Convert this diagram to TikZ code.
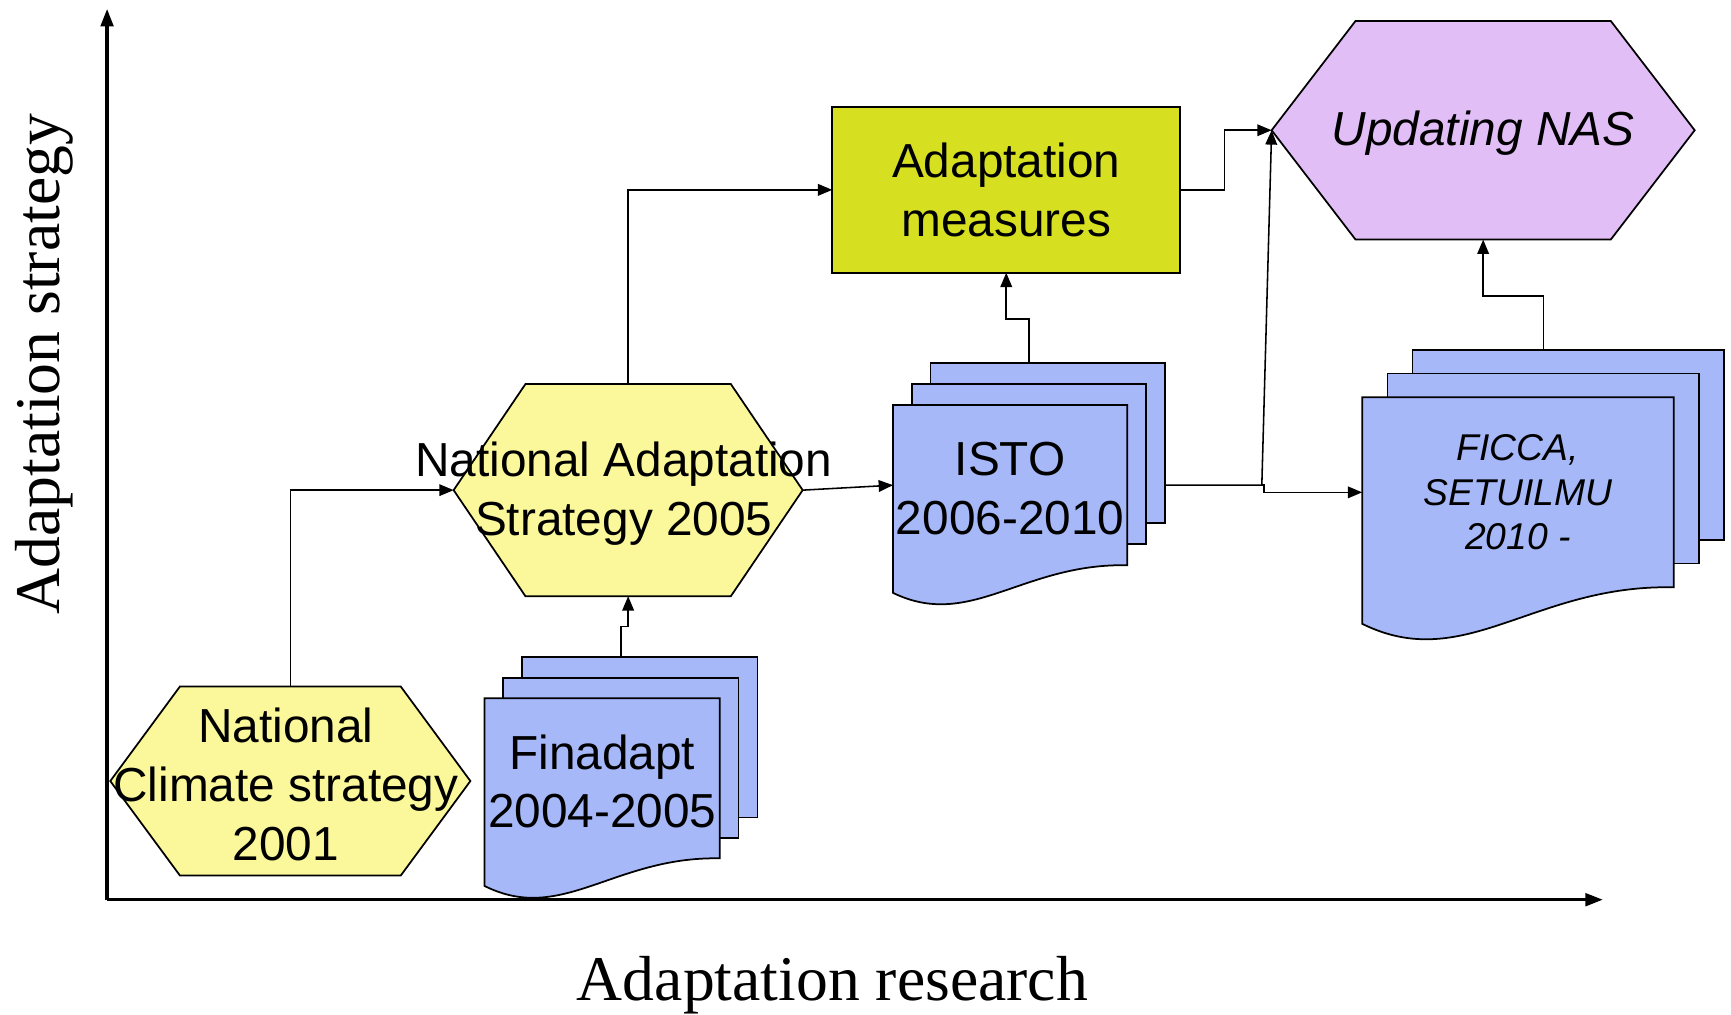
\documentclass[tikz,border=0pt]{standalone}
\usepackage{fontspec}
\setmainfont{Liberation Sans}
\newfontfamily\axisfont{Liberation Serif}
\usetikzlibrary{arrows.meta}

\definecolor{hexyellow}{RGB}{250,248,154}
\definecolor{measgreen}{RGB}{214,223,32}
\definecolor{docblue}{RGB}{166,184,247}
\definecolor{naslilac}{RGB}{226,190,246}

\begin{document}
\begin{tikzpicture}[x=0.01cm, y=-0.01cm,
	conn/.style={-{Triangle[length=3.7pt,width=3pt]}, line width=0.4pt},
	axis/.style={-{Triangle[length=4.5pt,width=3.2pt]}, line width=0.9pt},
	holder/.style={inner sep=0pt, outer sep=0pt},
	shapeline/.style={line width=0.45pt},
	page/.style={holder, shapeline, draw, fill=docblue},
	boxtext/.style={align=center, inner sep=0pt, yshift=-0.03cm, font=\fontsize{12.3}{15.1}\selectfont},
	smalltext/.style={align=center, inner sep=0pt, font=\itshape\fontsize{9.6}{11.4}\selectfont},
	axislabel/.style={inner sep=0pt, font=\axisfont\fontsize{16.4}{19}\selectfont}]
	\useasboundingbox (0,0) rectangle (1568,919);

	% axes
	\coordinate (origin) at (97,815);
	\coordinate (ytip) at (97,8);
	\coordinate (xtip) at (1452,815);
	\draw [axis] (origin) -- (ytip);
	\draw [axis] (origin) -- (xtip);
	\node [axislabel, rotate=90] (ylab) at (40,330) {Adaptation strategy};
	\node [axislabel, anchor=base] (xlab) at (754,906) {Adaptation research};

	% strategies
	\node [holder, minimum width=3.26cm, minimum height=1.71cm] (ncs) at (263,707.5) {};
	\draw [shapeline, fill=hexyellow] (ncs.west) -- ([xshift=0.63cm]ncs.north west) --
		([xshift=-0.63cm]ncs.north east) -- (ncs.east) --
		([xshift=-0.63cm]ncs.south east) -- ([xshift=0.63cm]ncs.south west) -- cycle;
	\node [boxtext, xshift=-0.04cm] (ncsT) at (ncs) {National\\Climate strategy\\2001};

	\node [holder, minimum width=3.16cm, minimum height=1.92cm] (nas) at (569,444) {};
	\draw [shapeline, fill=hexyellow] (nas.west) -- ([xshift=0.65cm]nas.north west) --
		([xshift=-0.65cm]nas.north east) -- (nas.east) --
		([xshift=-0.65cm]nas.south east) -- ([xshift=0.65cm]nas.south west) -- cycle;
	\node [boxtext, xshift=-0.04cm] (nasT) at (nas) {National Adaptation\\Strategy 2005};

	\node [holder, shapeline, draw, fill=measgreen, minimum width=3.15cm, minimum height=1.5cm,
		align=center, font=\fontsize{12.3}{15.1}\selectfont] (adm) at (911.5,172) {Adaptation\\measures};

	\node [holder, minimum width=3.83cm, minimum height=1.98cm] (unas) at (1343.5,118) {};
	\draw [shapeline, fill=naslilac] (unas.west) -- ([xshift=0.76cm]unas.north west) --
		([xshift=-0.76cm]unas.north east) -- (unas.east) --
		([xshift=-0.76cm]unas.south east) -- ([xshift=0.76cm]unas.south west) -- cycle;
	\node [boxtext, font=\itshape\fontsize{12.3}{15.1}\selectfont] (unasT) at (unas) {Updating NAS};

	% research projects
	\node [page, minimum width=2.13cm, minimum height=1.45cm] (finC) at (579.5,668) {};
	\node [page, minimum width=2.13cm, minimum height=1.45cm] (finB) at (562.5,686.5) {};
	\node [holder, minimum width=2.13cm, minimum height=1.45cm] (finA) at (545.5,705) {};
	\draw [shapeline, fill=docblue] (finA.north west) -- (finA.north east) -- (finA.south east)
		.. controls +(-96,-2) and +(70,35) .. ([yshift=-0.25cm]finA.south west) -- cycle;
	\node [boxtext] (finT) at (finA) {Finadapt\\2004-2005};

	\node [page, minimum width=2.12cm, minimum height=1.45cm] (istoC) at (949,401.5) {};
	\node [page, minimum width=2.12cm, minimum height=1.45cm] (istoB) at (932,420.5) {};
	\node [holder, minimum width=2.12cm, minimum height=1.45cm] (istoA) at (915,439.5) {};
	\draw [shapeline, fill=docblue] (istoA.north west) -- (istoA.north east) -- (istoA.south east)
		.. controls +(-95,-2) and +(70,34) .. ([yshift=-0.25cm]istoA.south west) -- cycle;
	\node [boxtext] (istoT) at (istoA) {ISTO\\2006-2010};

	\node [page, minimum width=2.82cm, minimum height=1.72cm] (ficC) at (1420.5,403) {};
	\node [page, minimum width=2.82cm, minimum height=1.72cm] (ficB) at (1398,424.5) {};
	\node [holder, minimum width=2.82cm, minimum height=1.72cm] (ficA) at (1375,446) {};
	\draw [shapeline, fill=docblue] (ficA.north west) -- (ficA.north east) -- (ficA.south east)
		.. controls +(-127,-3) and +(93,46) .. ([yshift=-0.33cm]ficA.south west) -- cycle;
	\node [smalltext] (ficT) at (ficA) {FICCA,\\SETUILMU\\2010 -};

	% links
	\draw [conn] (ncs.north) |- (nas.west);
	\draw [conn] (nas.north) |- (adm.west);
	\draw [conn] (finB.north |- finC.north) -- ++(0,-28) -| (nas.south);
	\draw [conn] (nas.east) -- (istoA.west);
	\draw [conn] (istoB.north |- istoC.north) -- ++(0,-40) -| (adm.south);
	\draw [conn] (adm.east) -- ++(40,0) |- (unas.west);
	\coordinate (split) at (1143,0 |- istoA.east);
	\draw [conn] (istoC.east |- istoA.east) -- (split) -- (unas.west);
	\draw [conn] (split) -- ++(2,0) |- (ficA.west);
	\draw [conn] (ficB.north |- ficC.north) -- ++(0,-49) -| (unas.south);
\end{tikzpicture}
\end{document}
